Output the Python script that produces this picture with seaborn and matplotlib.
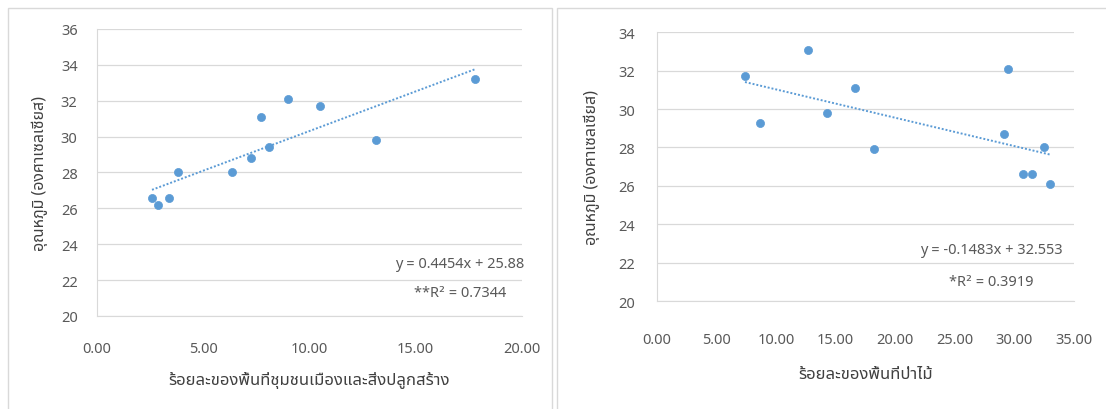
import matplotlib
matplotlib.use("Agg")
import matplotlib.pyplot as plt
from matplotlib.patches import Rectangle
import numpy as np
import pandas as pd
import seaborn as sns

# ------------------------------------------------------------------
# Data
# ------------------------------------------------------------------
urban_pct = [2.59, 2.87, 3.39, 3.81, 6.35, 7.25, 7.72, 8.09, 8.99, 10.49, 13.13, 17.79]
urban_temp = [26.6, 26.2, 26.6, 28.0, 28.0, 28.8, 31.1, 29.4, 32.1, 31.7, 29.8, 33.2]

forest_pct = [7.39, 8.65, 12.68, 14.27, 16.63, 18.22, 29.47, 29.14, 30.73, 31.49, 32.5, 33.0]
forest_temp = [31.7, 29.3, 33.1, 29.8, 31.1, 27.9, 32.1, 28.7, 26.6, 26.6, 28.0, 26.1]

y_label = "อุณหภูมิ (องศาเซลเซียส)"
x_label_left = "ร้อยละของพื้นที่ชุมชนเมืองและสิ่งปลูกสร้าง"
x_label_right = "ร้อยละของพื้นที่ป่าไม้"
eq_left = ["y = 0.4454x + 25.88", "**R² = 0.7344"]
eq_right = ["y = -0.1483x + 32.553", "*R² = 0.3919"]

BLUE = "#5B9BD5"
GRID = "#D9D9D9"
TICK = "#595959"

sns.set_style("white")
plt.rcParams["font.family"] = ["Noto Sans Thai", "DejaVu Sans"]

fig = plt.figure(figsize=(11.06, 4.10), dpi=100)

# chart-area frames (Excel style)
for x0, w in [(0.007, 0.492), (0.504, 0.5)]:
    fig.patches.append(Rectangle((x0, -0.05), w, 1.028, transform=fig.transFigure,
                                 fill=False, edgecolor=GRID, linewidth=1.0))

ax1 = fig.add_axes([0.0877, 0.227, 0.384, 0.700])
ax2 = fig.add_axes([0.594, 0.263, 0.377, 0.656])


def draw_panel(ax, xs, ys, xlim, xticks, ylim, yticks, xlabel, eq, eq_x, eq_y, eq_gap,
               xpad, ypad, xlabelpad, ylabelpad):
    df = pd.DataFrame({"x": xs, "y": ys})
    sns.regplot(data=df, x="x", y="y", ax=ax, scatter=False, ci=None, truncate=True,
                line_kws={"color": BLUE, "linestyle": (0, (1, 1)), "linewidth": 1.4})
    sns.scatterplot(data=df, x="x", y="y", ax=ax, color=BLUE, s=34,
                    edgecolor=BLUE, linewidth=0.5, zorder=3)
    ax.set_xlim(*xlim)
    ax.set_ylim(*ylim)
    ax.set_xticks(xticks)
    ax.set_xticklabels([f"{t:.2f}" for t in xticks])
    ax.set_yticks(yticks)
    ax.grid(axis="y", color=GRID, linewidth=0.9)
    ax.set_axisbelow(True)
    for side in ["top", "right"]:
        ax.spines[side].set_visible(False)
    for side in ["left", "bottom"]:
        ax.spines[side].set_color(GRID)
    ax.tick_params(axis="x", colors=TICK, labelsize=10.5, length=3, color=GRID, pad=xpad)
    ax.tick_params(axis="y", colors=TICK, labelsize=10.5, length=0, pad=ypad)
    ax.set_xlabel(xlabel, fontsize=12, fontweight="bold", color="#404040",
                  labelpad=xlabelpad)
    ax.set_ylabel(y_label, fontsize=11.5, fontweight="bold", color="#404040",
                  labelpad=ylabelpad)
    ax.text(eq_x, eq_y, eq[0], transform=ax.transAxes, ha="center",
            va="center", fontsize=10.5, color=TICK)
    ax.text(eq_x, eq_y - eq_gap, eq[1], transform=ax.transAxes, ha="center",
            va="center", fontsize=10.5, color=TICK)


draw_panel(ax1, urban_pct, urban_temp, (0, 20), [0, 5, 10, 15, 20], (20, 36),
           range(20, 37, 2), x_label_left, eq_left, 0.854, 0.181, 0.10,
           xpad=15, ypad=14, xlabelpad=11, ylabelpad=9)
draw_panel(ax2, forest_pct, forest_temp, (0, 35), [0, 5, 10, 15, 20, 25, 30, 35],
           (20, 34), range(20, 35, 2), x_label_right, eq_right, 0.801, 0.193, 0.119,
           xpad=19, ypad=16, xlabelpad=14, ylabelpad=13)

fig.savefig("out.png", dpi=100)
